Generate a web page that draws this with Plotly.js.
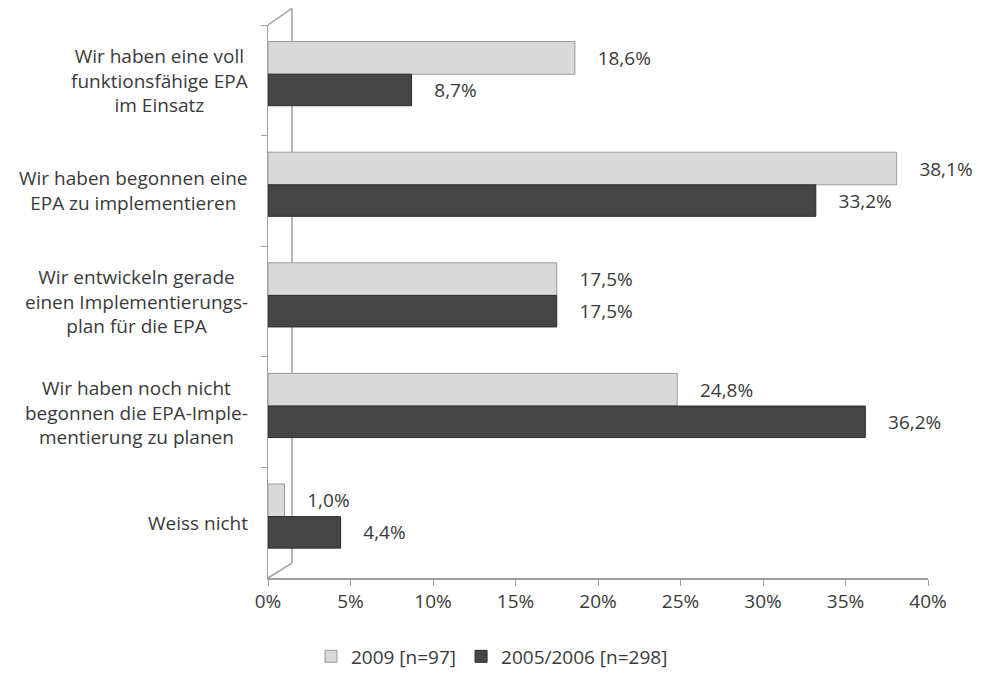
<!DOCTYPE html>
<html>
<head>
<meta charset="utf-8">
<script src="https://cdn.plot.ly/plotly-3.0.1.min.js"></script>
<style>html,body{margin:0;padding:0;background:#fff;}#chart{width:982px;height:674px;}</style>
</head>
<body>
<div id="chart"></div>
<script>
const categories = [
  "Wir haben eine voll<br>funktionsfähige EPA<br>im Einsatz",
  "Wir haben begonnen eine<br>EPA zu implementieren",
  "Wir entwickeln gerade<br>einen Implementierungs-<br>plan für die EPA",
  "Wir haben noch nicht<br>begonnen die EPA-Imple-<br>mentierung zu planen",
  "Weiss nicht"
];
const seriesNames = ["2009 [n=97]", "2005/2006 [n=298]"];
const values2009 = [18.6, 38.1, 17.5, 24.8, 1.0];
const values2005 = [8.7, 33.2, 17.5, 36.2, 4.4];
const xTickVals = [0, 5, 10, 15, 20, 25, 30, 35, 40];
const xTickText = ["0%", "5%", "10%", "15%", "20%", "25%", "30%", "35%", "40%"];

const fmt = v => "\u00a0\u00a0\u00a0\u00a0" + v.toFixed(1).replace(".", ",") + "%";
const textColor = "#3a3a3a";
const fontFam = "'Open Sans', 'DejaVu Sans', sans-serif";
const fs = 19;

const traces = [
  {
    type: "bar", orientation: "h", name: seriesNames[0],
    y: categories, x: values2009, width: 0.295, offset: -0.35,
    marker: {color: "#d9d9d9", line: {color: "#9a9a9a", width: 1}},
    text: values2009.map(fmt), textposition: "outside", cliponaxis: false,
    textfont: {family: fontFam, size: fs, color: textColor},
    hoverinfo: "skip"
  },
  {
    type: "bar", orientation: "h", name: seriesNames[1],
    y: categories, x: values2005, width: 0.285, offset: -0.055,
    marker: {color: "#454545", line: {color: "#2e2e2e", width: 1}},
    text: values2005.map(fmt), textposition: "outside", cliponaxis: false,
    textfont: {family: fontFam, size: fs, color: textColor},
    hoverinfo: "skip"
  }
];

const annotations = categories.map(c => ({
  xref: "paper", yref: "y", x: 0, y: c, xshift: -18,
  xanchor: "right", yanchor: "middle", align: "center",
  text: c, showarrow: false,
  font: {family: fontFam, size: fs, color: textColor}
}));

const wall = "#a0a0a0";
const shapes = [
  {type: "line", layer: "below", xref: "paper", yref: "paper", x0: 0, y0: 1, x1: 0.0364, y1: 1.03, line: {color: wall, width: 1.5}},
  {type: "line", layer: "below", xref: "paper", yref: "paper", x0: 0.0364, y0: 1.03, x1: 0.0364, y1: 0.027, line: {color: wall, width: 1.5}},
  {type: "line", layer: "below", xref: "paper", yref: "paper", x0: 0, y0: 0, x1: 0.0364, y1: 0.027, line: {color: wall, width: 1.5}}
];

const layout = {
  width: 982, height: 674,
  margin: {l: 268, r: 54, t: 25, b: 96},
  paper_bgcolor: "#fff", plot_bgcolor: "rgba(0,0,0,0)",
  barmode: "overlay",
  showlegend: true,
  legend: {orientation: "h", xref: "container", yref: "container",
           x: 0.501, xanchor: "center", y: 0.026, yanchor: "middle",
           font: {family: fontFam, size: fs, color: textColor}, traceorder: "normal"},
  xaxis: {
    range: [0, 40], tickvals: xTickVals, ticktext: xTickText,
    showgrid: false, zeroline: false, showline: true, linecolor: wall, linewidth: 1.5,
    ticks: "outside", ticklen: 6, tickcolor: wall,
    tickfont: {family: fontFam, size: fs, color: textColor}, fixedrange: true
  },
  yaxis: {
    autorange: "reversed", type: "category",
    showgrid: false, zeroline: false, showline: true, linecolor: wall, linewidth: 1.5,
    ticks: "outside", tickson: "boundaries", ticklen: 6, tickcolor: wall,
    showticklabels: false, fixedrange: true
  },
  annotations: annotations,
  shapes: shapes
};

Plotly.newPlot("chart", traces, layout, {displayModeBar: false, staticPlot: true});
</script>
</body>
</html>
